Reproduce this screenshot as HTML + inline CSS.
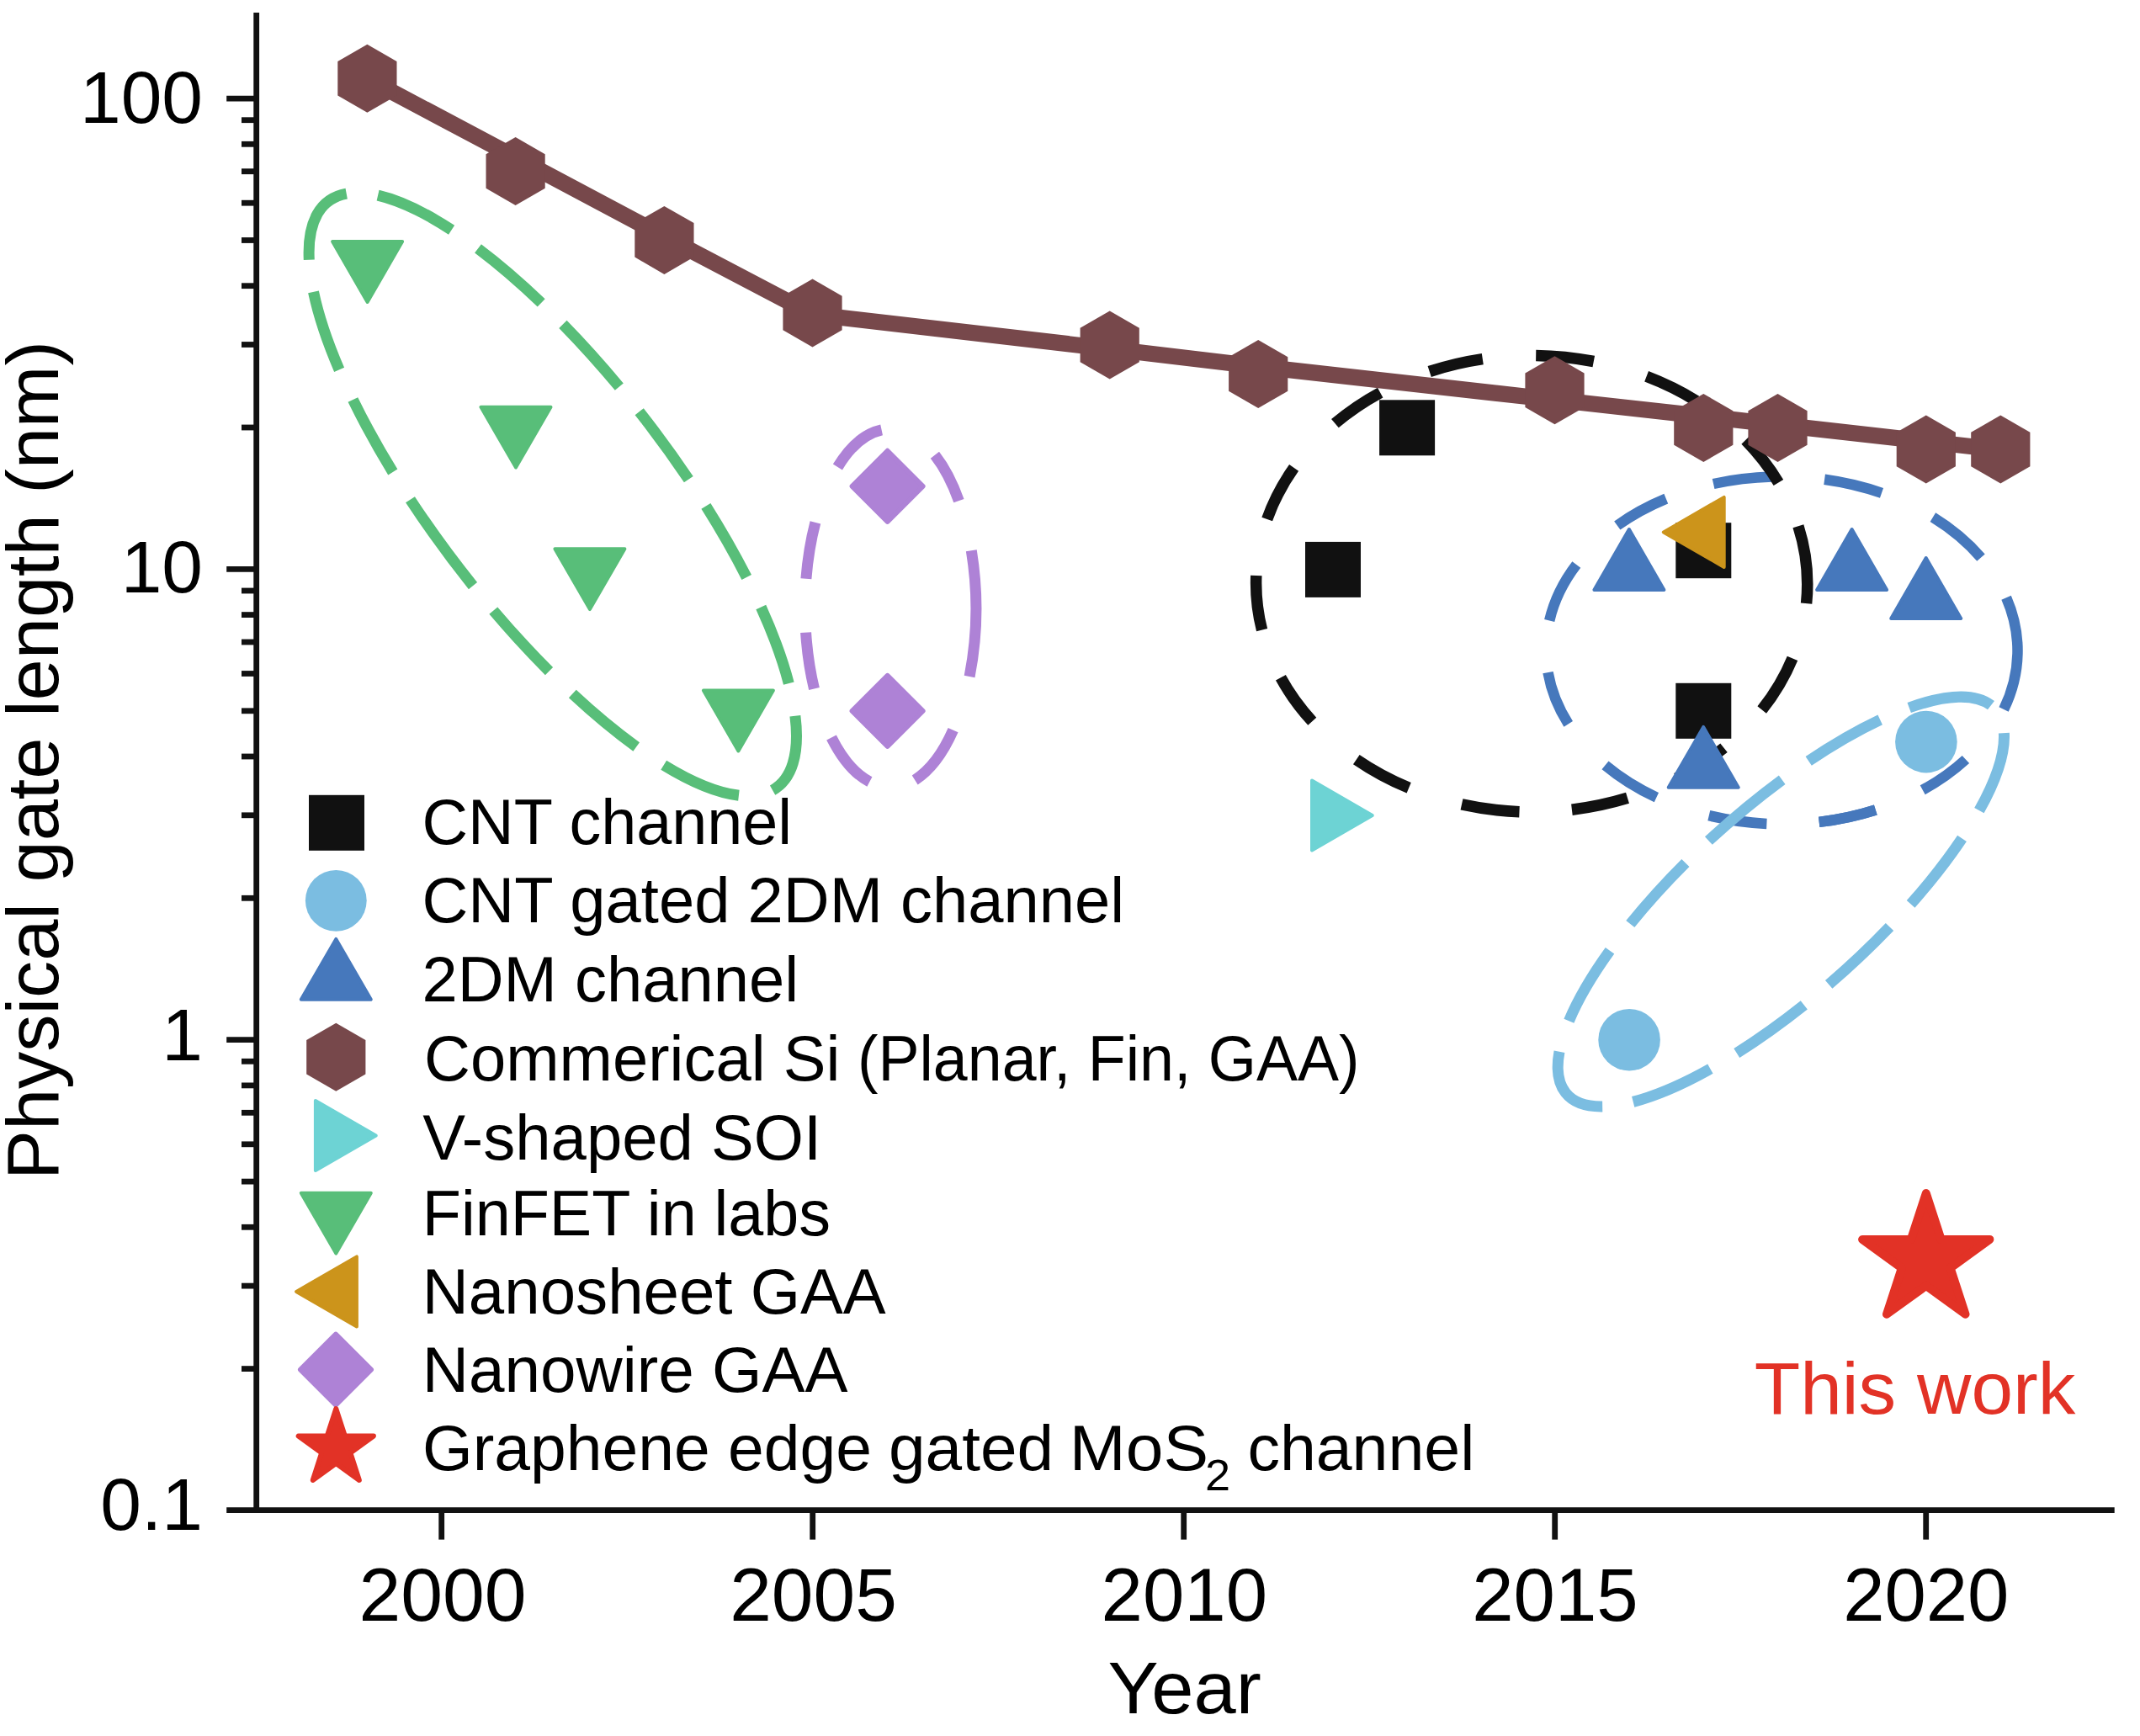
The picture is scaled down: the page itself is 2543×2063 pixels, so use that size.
<!DOCTYPE html>
<html lang="en"><head><meta charset="utf-8"><title>Physical gate length vs year</title>
<style>html,body{margin:0;padding:0;background:#fff}svg{display:block}text{font-family:'Liberation Sans', sans-serif}</style></head><body>
<svg width="2543" height="2063" viewBox="0 0 2543 2063">
<rect width="2543" height="2063" fill="#fff"/>
<g stroke="#111111" stroke-width="6.8" fill="none">
<path d="M304.7 15V1798"/>
<path d="M269.2 1794.6H2512.7"/>
<path d="M524.7 1794V1829.6"/>
<path d="M965.7 1794V1829.6"/>
<path d="M1406.7 1794V1829.6"/>
<path d="M1847.7 1794V1829.6"/>
<path d="M2288.7 1794V1829.6"/>
<path d="M269.2 117.1H304"/>
<path d="M269.2 676.4H304"/>
<path d="M269.2 1235.7H304"/>
<path d="M287 508.0H304"/>
<path d="M287 409.5H304"/>
<path d="M287 339.7H304"/>
<path d="M287 285.5H304"/>
<path d="M287 241.2H304"/>
<path d="M287 203.7H304"/>
<path d="M287 171.3H304"/>
<path d="M287 142.7H304"/>
<path d="M287 1067.3H304"/>
<path d="M287 968.8H304"/>
<path d="M287 899.0H304"/>
<path d="M287 844.8H304"/>
<path d="M287 800.5H304"/>
<path d="M287 763.0H304"/>
<path d="M287 730.6H304"/>
<path d="M287 702.0H304"/>
<path d="M287 1626.6H304"/>
<path d="M287 1528.1H304"/>
<path d="M287 1458.3H304"/>
<path d="M287 1404.1H304"/>
<path d="M287 1359.8H304"/>
<path d="M287 1322.3H304"/>
<path d="M287 1289.9H304"/>
<path d="M287 1261.3H304"/>
</g>
<path d="M1841.2 737.5A280.2 206.6 -179.78 0 1 1873.3 671.0 M1921.8 624.5A280.2 206.6 -179.78 0 1 1979.8 592.6 M2036.1 575.0A280.2 206.6 -179.78 0 1 2105.5 566.5 M2168.1 569.8A280.2 206.6 -179.78 0 1 2236.0 585.9 M2296.9 614.6A280.2 206.6 -179.78 0 1 2354.0 662.6 M2384.1 710.2A280.2 206.6 -179.78 0 1 2381.1 843.0 M2335.9 902.5A280.2 206.6 -179.78 0 1 2284.7 938.8 M2228.8 962.5A280.2 206.6 -179.78 0 1 2161.7 976.9 M2099.4 978.9A280.2 206.6 -179.78 0 1 2030.8 969.2 M1968.4 947.6A280.2 206.6 -179.78 0 1 1907.5 909.4 M1863.7 860.3A280.2 206.6 -179.78 0 1 1839.5 799.1" fill="none" stroke="#4678bc" stroke-width="12.5"/>
<path d="M1505.7 617.0A327.6 271.3 -179.63 0 1 1537.6 555.9 M1586.4 503.2A327.6 271.3 -179.63 0 1 1640.2 466.6 M1698.7 441.5A327.6 271.3 -179.63 0 1 1761.8 426.6 M1825.2 422.4A327.6 271.3 -179.63 0 1 1893.8 429.5 M1956.6 447.3A327.6 271.3 -179.63 0 1 2015.7 476.4 M2074.2 523.0A327.6 271.3 -179.63 0 1 2113.4 573.4 M2136.9 625.3A327.6 271.3 -179.63 0 1 2146.6 717.1 M2130.0 782.3A327.6 271.3 -179.63 0 1 2093.7 843.5 M2048.5 888.7A327.6 271.3 -179.63 0 1 1992.3 924.9 M1934.0 948.3A327.6 271.3 -179.63 0 1 1867.9 962.2 M1805.5 964.7A327.6 271.3 -179.63 0 1 1737.0 955.9 M1674.2 936.3A327.6 271.3 -179.63 0 1 1611.8 902.6 M1559.3 857.3A327.6 271.3 -179.63 0 1 1521.9 805.3 M1499.6 748.7A327.6 271.3 -179.63 0 1 1492.8 683.9" fill="none" stroke="#111111" stroke-width="13.5"/>
<polyline points="436.4,93.5 612.6,187.0 789.3,281.0 965.5,373.5 1318.7,414.5 1495.2,435.5 1847.5,475.0 2024.4,494.7 2112.5,504.6 2288.8,524.5 2377.3,534.5" fill="none" stroke="#77484b" stroke-width="19.3" stroke-linejoin="round"/>
<polygon points="436.4,52.8 471.5,73.0 471.5,113.5 436.4,133.8 401.3,113.5 401.3,73.0" fill="#77484b"/>
<polygon points="612.6,162.9 647.7,183.2 647.7,223.7 612.6,243.9 577.5,223.7 577.5,183.2" fill="#77484b"/>
<polygon points="789.4,244.9 824.5,265.1 824.5,305.6 789.4,325.9 754.3,305.6 754.3,265.1" fill="#77484b"/>
<polygon points="965.5,331.5 1000.6,351.8 1000.6,392.2 965.5,412.5 930.4,392.2 930.4,351.8" fill="#77484b"/>
<polygon points="1318.7,369.5 1353.8,389.8 1353.8,430.2 1318.7,450.5 1283.6,430.2 1283.6,389.8" fill="#77484b"/>
<polygon points="1495.2,404.0 1530.3,424.2 1530.3,464.8 1495.2,485.0 1460.1,464.8 1460.1,424.2" fill="#77484b"/>
<polygon points="1847.5,423.2 1882.6,443.4 1882.6,483.9 1847.5,504.2 1812.4,483.9 1812.4,443.4" fill="#77484b"/>
<polygon points="2024.3,468.0 2059.4,488.2 2059.4,528.8 2024.3,549.0 1989.2,528.8 1989.2,488.2" fill="#77484b"/>
<polygon points="2112.5,468.0 2147.6,488.2 2147.6,528.8 2112.5,549.0 2077.4,528.8 2077.4,488.2" fill="#77484b"/>
<polygon points="2288.8,493.5 2323.9,513.8 2323.9,554.2 2288.8,574.5 2253.7,554.2 2253.7,513.8" fill="#77484b"/>
<polygon points="2377.3,493.5 2412.4,513.8 2412.4,554.2 2377.3,574.5 2342.2,554.2 2342.2,513.8" fill="#77484b"/>
<rect x="1639.1" y="475.3" width="66" height="66" fill="#111111"/>
<rect x="1551.0" y="643.9" width="66" height="66" fill="#111111"/>
<rect x="1991.3" y="621.2" width="66" height="66" fill="#111111"/>
<rect x="1991.3" y="811.8" width="66" height="66" fill="#111111"/>
<polygon points="1976.8,632.4 2048.7,590.9 2048.7,673.9" fill="#cc941b" stroke="#cc941b" stroke-width="4" stroke-linejoin="round"/>
<polygon points="1935.9,629.0 1977.4,700.9 1894.4,700.9" fill="#4678bc" stroke="#4678bc" stroke-width="4" stroke-linejoin="round"/>
<polygon points="2200.6,629.1 2242.1,701.0 2159.1,701.0" fill="#4678bc" stroke="#4678bc" stroke-width="4" stroke-linejoin="round"/>
<polygon points="2288.7,663.0 2330.2,734.9 2247.2,734.9" fill="#4678bc" stroke="#4678bc" stroke-width="4" stroke-linejoin="round"/>
<polygon points="2024.2,863.9 2065.7,935.8 1982.7,935.8" fill="#4678bc" stroke="#4678bc" stroke-width="4" stroke-linejoin="round"/>
<polygon points="1630.8,969.0 1559.0,1010.5 1559.0,927.5" fill="#6dd3d4" stroke="#6dd3d4" stroke-width="4" stroke-linejoin="round"/>
<polygon points="436.6,358.9 395.1,287.1 478.1,287.0" fill="#58be79" stroke="#58be79" stroke-width="4" stroke-linejoin="round"/>
<polygon points="613.0,555.6 571.5,483.8 654.5,483.7" fill="#58be79" stroke="#58be79" stroke-width="4" stroke-linejoin="round"/>
<polygon points="700.9,724.1 659.4,652.2 742.4,652.2" fill="#58be79" stroke="#58be79" stroke-width="4" stroke-linejoin="round"/>
<polygon points="877.4,892.5 835.9,820.6 918.9,820.6" fill="#58be79" stroke="#58be79" stroke-width="4" stroke-linejoin="round"/>
<polygon points="1054.6,535.8 1096.6,577.8 1054.6,619.8 1012.6,577.8" fill="#ae82d6" stroke="#ae82d6" stroke-width="6" stroke-linejoin="round"/>
<polygon points="1054.6,802.9 1096.6,844.9 1054.6,886.9 1012.6,844.9" fill="#ae82d6" stroke="#ae82d6" stroke-width="6" stroke-linejoin="round"/>
<circle cx="2288.9" cy="881.6" r="36.8" fill="#7bbde1"/>
<circle cx="1936.1" cy="1235.7" r="36.8" fill="#7bbde1"/>
<polygon points="2288.8,1418.0 2306.6,1472.9 2364.4,1472.9 2317.6,1506.9 2335.5,1561.8 2288.8,1527.9 2242.0,1561.8 2259.9,1506.9 2213.1,1472.9 2270.9,1472.9" fill="#e23226" stroke="#e23226" stroke-width="10" stroke-linejoin="round"/>
<path d="M449.1 232.1A438.5 141.6 -127.51 0 1 536.6 273.3 M568.0 295.4A438.5 141.6 -127.51 0 1 643.2 359.9 M668.9 385.4A438.5 141.6 -127.51 0 1 735.8 459.7 M759.7 489.2A438.5 141.6 -127.51 0 1 818.3 569.7 M838.9 601.4A438.5 141.6 -127.51 0 1 887.2 686.0 M904.3 721.5A438.5 141.6 -127.51 0 1 937.3 812.1 M944.9 850.7A438.5 141.6 -127.51 0 1 918.1 939.1 M877.9 945.2A438.5 141.6 -127.51 0 1 788.7 909.2 M756.2 887.4A438.5 141.6 -127.51 0 1 680.3 824.5 M652.5 797.6A438.5 141.6 -127.51 0 1 586.3 725.6 M562.0 696.1A438.5 141.6 -127.51 0 1 487.5 593.7 M466.8 561.0A438.5 141.6 -127.51 0 1 419.4 475.0 M403.1 439.4A438.5 141.6 -127.51 0 1 372.5 346.9 M367.3 308.7A438.5 141.6 -127.51 0 1 411.7 230.2" fill="none" stroke="#58be79" stroke-width="13"/>
<path d="M1110.9 540.8A213.0 101.6 -90.05 0 1 1139.4 595.1 M1154.3 654.2A213.0 101.6 -90.05 0 1 1152.1 803.9 M1132.6 867.7A213.0 101.6 -90.05 0 1 1087.2 926.9 M1033.4 929.1A213.0 101.6 -90.05 0 1 988.0 876.5 M967.5 818.6A213.0 101.6 -90.05 0 1 957.6 751.7 M957.9 687.8A213.0 101.6 -90.05 0 1 968.9 620.9 M995.4 555.0A213.0 101.6 -90.05 0 1 1047.6 510.8" fill="none" stroke="#ae82d6" stroke-width="13"/>
<path d="M2228.8 962.5A280.2 206.6 -179.78 0 1 2161.7 976.9" fill="none" stroke="#4678bc" stroke-width="12.5"/>
<path d="M1864.4 1213.2A342.3 111.5 138.03 0 1 1913.0 1129.8 M1937.3 1098.0A342.3 111.5 138.03 0 1 2002.9 1025.5 M2030.4 999.1A342.3 111.5 138.03 0 1 2117.7 926.7 M2149.2 904.4A342.3 111.5 138.03 0 1 2234.2 855.4 M2268.7 841.0A342.3 111.5 138.03 0 1 2366.0 838.2 M2381.4 871.1A342.3 111.5 138.03 0 1 2351.9 963.2 M2331.5 996.4A342.3 111.5 138.03 0 1 2270.6 1074.4 M2245.5 1101.5A342.3 111.5 138.03 0 1 2173.2 1169.9 M2143.8 1194.3A342.3 111.5 138.03 0 1 2063.8 1251.4 M2032.4 1270.2A342.3 111.5 138.03 0 1 1940.7 1309.4 M1904.2 1314.9A342.3 111.5 138.03 0 1 1853.0 1249.8" fill="none" stroke="#7bbde1" stroke-width="13"/>
<rect x="367.0" y="944.8" width="66" height="66" fill="#111111"/>
<circle cx="399.3" cy="1070.3" r="36.4" fill="#7bbde1"/>
<polygon points="399.3,1115.9 440.8,1187.8 357.8,1187.8" fill="#4678bc" stroke="#4678bc" stroke-width="4" stroke-linejoin="round"/>
<polygon points="399.3,1215.7 434.4,1236.0 434.4,1276.5 399.3,1296.7 364.2,1276.5 364.2,1236.0" fill="#77484b"/>
<polygon points="446.8,1349.5 374.9,1391.0 374.9,1308.0" fill="#6dd3d4" stroke="#6dd3d4" stroke-width="4" stroke-linejoin="round"/>
<polygon points="399.3,1489.6 357.8,1417.8 440.8,1417.8" fill="#58be79" stroke="#58be79" stroke-width="4" stroke-linejoin="round"/>
<polygon points="352.1,1534.9 423.9,1493.4 423.9,1576.4" fill="#cc941b" stroke="#cc941b" stroke-width="4" stroke-linejoin="round"/>
<polygon points="399.0,1585.6 441.0,1627.6 399.0,1669.6 357.0,1627.6" fill="#ae82d6" stroke="#ae82d6" stroke-width="6" stroke-linejoin="round"/>
<polygon points="399.3,1674.0 409.9,1706.5 444.0,1706.5 416.4,1726.5 426.9,1759.0 399.3,1739.0 371.7,1759.0 382.2,1726.5 354.6,1706.5 388.7,1706.5" fill="#e23226" stroke="#e23226" stroke-width="5.9" stroke-linejoin="round"/>
<text fill="#000" xml:space="preserve"><tspan id="lg0" x="501.5" y="1002.9" font-size="75.5" textLength="439.6" lengthAdjust="spacingAndGlyphs">CNT channel</tspan></text>
<text fill="#000" xml:space="preserve"><tspan id="lg1" x="501.5" y="1096.0" font-size="75.5" textLength="834.6" lengthAdjust="spacingAndGlyphs">CNT gated 2DM channel</tspan></text>
<text fill="#000" xml:space="preserve"><tspan id="lg2" x="501.5" y="1190.1" font-size="75.5" textLength="447.6" lengthAdjust="spacingAndGlyphs">2DM channel</tspan></text>
<text fill="#000" xml:space="preserve"><tspan id="lg3a" x="504.1" y="1283.7" font-size="75.5" textLength="494.2" lengthAdjust="spacingAndGlyphs">Commerical Si</tspan><tspan id="lg3b" x="1019.0" y="1283.7" font-size="75.5" textLength="596.6" lengthAdjust="spacingAndGlyphs">(Planar, Fin, GAA)</tspan></text>
<text fill="#000" xml:space="preserve"><tspan id="lg4" x="502.3" y="1377.6" font-size="75.5" textLength="473.8" lengthAdjust="spacingAndGlyphs">V-shaped SOI</tspan></text>
<text fill="#000" xml:space="preserve"><tspan id="lg5" x="501.8" y="1468.0" font-size="75.5" textLength="485.3" lengthAdjust="spacingAndGlyphs">FinFET in labs</tspan></text>
<text fill="#000" xml:space="preserve"><tspan id="lg6" x="501.8" y="1560.5" font-size="75.5" textLength="550.9" lengthAdjust="spacingAndGlyphs">Nanosheet GAA</tspan></text>
<text fill="#000" xml:space="preserve"><tspan id="lg7" x="501.8" y="1654.1" font-size="75.5" textLength="505.6" lengthAdjust="spacingAndGlyphs">Nanowire GAA</tspan></text>
<text fill="#000" xml:space="preserve"><tspan id="lg8a" x="502.0" y="1747.4" font-size="75.5" textLength="533.9" lengthAdjust="spacingAndGlyphs">Graphene edge</tspan><tspan id="lg8b" x="1056.0" y="1747.4" font-size="75.5" textLength="196.2" lengthAdjust="spacingAndGlyphs">gated</tspan><tspan id="lg8c" x="1270.8" y="1747.4" font-size="75.5" textLength="165.3" lengthAdjust="spacingAndGlyphs">MoS</tspan><tspan id="lg8d" x="1432.0" y="1771.4" font-size="51" textLength="30.1" lengthAdjust="spacingAndGlyphs">2</tspan><tspan id="lg8e" x="1482.4" y="1747.4" font-size="75.5" textLength="269.9" lengthAdjust="spacingAndGlyphs">channel</tspan></text>
<text fill="#000" xml:space="preserve"><tspan id="x2000" x="426.5" y="1926.0" font-size="89" textLength="199.1" lengthAdjust="spacingAndGlyphs">2000</tspan></text>
<text fill="#000" xml:space="preserve"><tspan id="x2005" x="867.2" y="1926.0" font-size="89" textLength="198.6" lengthAdjust="spacingAndGlyphs">2005</tspan></text>
<text fill="#000" xml:space="preserve"><tspan id="x2010" x="1308.6" y="1926.0" font-size="89" textLength="197.4" lengthAdjust="spacingAndGlyphs">2010</tspan></text>
<text fill="#000" xml:space="preserve"><tspan id="x2015" x="1749.2" y="1926.0" font-size="89" textLength="197.4" lengthAdjust="spacingAndGlyphs">2015</tspan></text>
<text fill="#000" xml:space="preserve"><tspan id="x2020" x="2190.2" y="1926.0" font-size="89" textLength="197.2" lengthAdjust="spacingAndGlyphs">2020</tspan></text>
<text fill="#000" xml:space="preserve"><tspan id="year" x="1316.4" y="2036.2" font-size="86.5" textLength="182.3" lengthAdjust="spacingAndGlyphs">Year</tspan></text>
<text fill="#e23226" xml:space="preserve"><tspan id="tw" x="2084.7" y="1679.9" font-size="88" textLength="381.7" lengthAdjust="spacingAndGlyphs">This work</tspan></text>
<text x="241.0" y="146.2" font-size="87.5" text-anchor="end" fill="#000" id="y100">100</text>
<text x="241.0" y="704.2" font-size="87.5" text-anchor="end" fill="#000" id="y10">10</text>
<text x="241.0" y="1260.4" font-size="87.5" text-anchor="end" fill="#000" id="y1">1</text>
<text x="241.0" y="1818.0" font-size="87.5" text-anchor="end" fill="#000" id="y01">0.1</text>
<text transform="translate(69 1402.0) rotate(-90)" font-size="87" fill="#000" id="yl" textLength="996.8" lengthAdjust="spacingAndGlyphs">Physical gate length (nm)</text>
</svg></body></html>
